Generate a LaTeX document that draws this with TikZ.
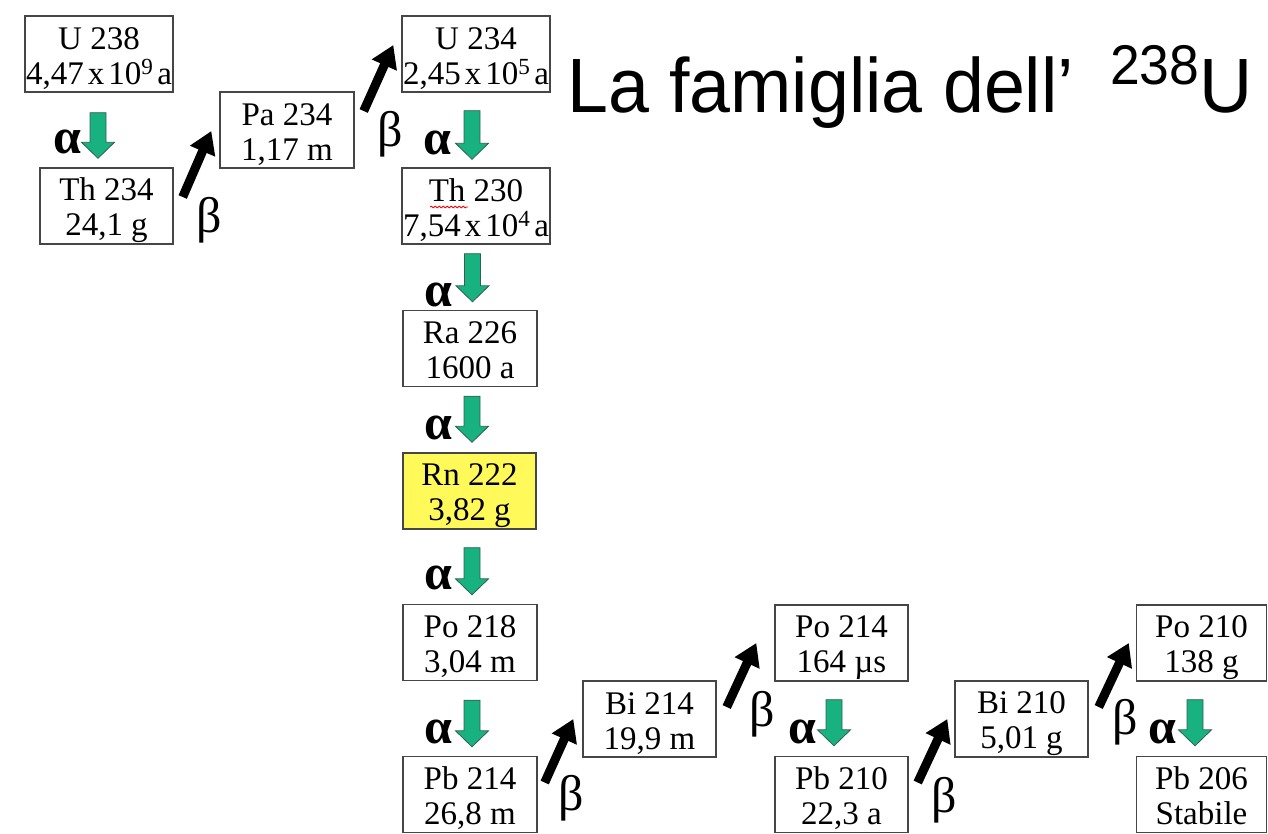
\documentclass[tikz,border=0pt]{standalone}
\usepackage{fontspec}
\setmainfont{Liberation Serif}
\newfontfamily\titlefont[FakeStretch=0.955]{Liberation Sans}
\usetikzlibrary{calc,arrows.meta,decorations.pathmorphing}
\definecolor{galphafill}{RGB}{24,178,128}
\definecolor{galphaedge}{RGB}{50,95,80}
\definecolor{boxedge}{RGB}{70,70,70}
\definecolor{rnyellow}{RGB}{255,250,90}
\newcommand{\bxt}[2]{\rule{0pt}{32pt}#1\\#2\rule[-7pt]{0pt}{7pt}}
\newcommand{\nsp}{\kern4pt}
\begin{document}
\begin{tikzpicture}[x=1pt,y=-1pt,
  iso/.style={draw=boxedge, line width=1.4pt, inner sep=0pt, minimum height=76pt,
    align=center, font=\fontsize{33}{35}\selectfont},
  galpha/.style={fill=galphafill, draw=galphaedge, line width=0.8pt,
    to path={let \p1=(\tikztostart), \p2=(\tikztotarget) in
      (\x1-8pt,\y1) -- (\x1+8pt,\y1) -- (\x1+8pt,\y2+16pt) -- (\x1+16.5pt,\y2+16pt)
      -- (\x1,\y2) -- (\x1-16.5pt,\y2+16pt) -- (\x1-8pt,\y2+16pt) -- cycle}},
  bbeta/.style={draw=black, line width=9pt, -{Triangle[width=26pt,length=22pt]}},
  lbl/.style={inner sep=0pt, font=\fontsize{50}{50}\selectfont},
  albl/.style={lbl, font=\fontsize{50}{50}\selectfont\bfseries},
  titlestyle/.style={inner sep=0pt, anchor=base west, font=\titlefont\fontsize{77}{80}\selectfont}
]
\useasboundingbox (0,0) rectangle (1268,833);

% title
\node[titlestyle] (title) at (567,112) {La famiglia dell’\hspace{36pt}\raisebox{28pt}{\fontsize{56}{56}\selectfont 238}U};

% isotope boxes
\node[iso, minimum width=148pt] (u238) at (99,54) {\bxt{U 238}{4,47\nsp x\nsp 10\textsuperscript{9}\nsp a}};
\node[iso, minimum width=133pt] (th234) at (106.5,206) {\bxt{Th 234}{24,1 g}};
\node[iso, minimum width=134pt] (pa234) at (287,130) {\bxt{Pa 234}{1,17 m}};
\node[iso, minimum width=148pt] (u234) at (476,54) {\bxt{U 234}{2,45\nsp x\nsp 10\textsuperscript{5}\nsp a}};
\node[iso, minimum width=148pt] (th230) at (476,206) {\bxt{Th 230}{7,54\nsp x\nsp 10\textsuperscript{4}\nsp a}};
\node[iso, minimum width=134pt] (ra226) at (470,348.5) {\bxt{Ra 226}{1600 a}};
\node[iso, minimum width=133pt, fill=rnyellow] (rn222) at (469.5,491) {\bxt{Rn 222}{3,82 g}};
\node[iso, minimum width=134pt] (po218) at (470,642.5) {\bxt{Po 218}{3,04 m}};
\node[iso, minimum width=134pt] (pb214) at (470,794.5) {\bxt{Pb 214}{26,8 m}};
\node[iso, minimum width=133pt] (bi214) at (649.5,719) {\bxt{Bi 214}{19,9 m}};
\node[iso, minimum width=133pt] (po214) at (841.5,643) {\bxt{Po 214}{164 µs}};
\node[iso, minimum width=133pt] (pb210) at (841.5,794.5) {\bxt{Pb 210}{22,3 a}};
\node[iso, minimum width=133pt] (bi210) at (1021.5,719) {\bxt{Bi 210}{5,01 g}};
\node[iso, minimum width=130pt] (po210) at (1201.5,643) {\bxt{Po 210}{138 g}};
\node[iso, minimum width=130pt] (pb206) at (1201.5,794.5) {\bxt{Pb 206}{Stabile}};

% spell-check squiggle under "Th"
\draw[red, line width=0.8pt, decorate, decoration={snake, amplitude=0.9pt, segment length=4pt}]
  ([shift={(-46,1)}]th230.center) -- ([shift={(-8,1)}]th230.center);

% alpha decays
\draw[galpha] ($(u238.south)+(-1,20)$) to ($(th234.north)+(0,-9)$);
\draw[galpha] ($(u234.south)+(-4,18)$) to ($(th230.north)+(0,-8)$);
\draw[galpha] ($(th230.south)+(-3.5,9)$) to ($(ra226.north)+(0,-8)$);
\draw[galpha] ($(ra226.south)+(2,9)$) to ($(rn222.north)+(0,-10)$);
\draw[galpha] ($(rn222.south)+(2.5,18)$) to ($(po218.north)+(0,-9)$);
\draw[galpha] ($(po218.south)+(2,19)$) to ($(pb214.north)+(0,-9)$);
\draw[galpha] ($(po214.south)+(-7.5,18)$) to ($(pb210.north)+(0,-10)$);
\draw[galpha] ($(po210.south)+(-6.5,18)$) to ($(pb206.north)+(0,-10)$);

\node[albl] (a1) at (67,142) {α};
\node[albl] (a2) at (437,143) {α};
\node[albl] (a3) at (438,295) {α};
\node[albl] (a4) at (438,428) {α};
\node[albl] (a5) at (438,578) {α};
\node[albl] (a6) at (438,732) {α};
\node[albl] (a7) at (802,732) {α};
\node[albl] (a8) at (1162,732) {α};

% beta decays
\draw[bbeta] ([shift={(9,-9)}]th234.east) -- ([shift={(-8,1)}]pa234.west);
\draw[bbeta] ([shift={(9,-19)}]pa234.east) -- ([shift={(-8,-9)}]u234.west);
\draw[bbeta] ([shift={(7,-12)}]pb214.east) -- ([shift={(-9,0)}]bi214.west);
\draw[bbeta] ([shift={(10,-12)}]bi214.east) -- ([shift={(-18,0)}]po214.west);
\draw[bbeta] ([shift={(9,-12)}]pb210.east) -- ([shift={(-7,0)}]bi210.west);
\draw[bbeta] ([shift={(10,-12)}]bi210.east) -- ([shift={(-7,0)}]po210.west);

\node[lbl] (b1) at (209,220) {β};
\node[lbl] (b2) at (390,134) {β};
\node[lbl] (b3) at (571,798) {β};
\node[lbl] (b4) at (762,714) {β};
\node[lbl] (b5) at (944,800) {β};
\node[lbl] (b6) at (1125,722) {β};
\end{tikzpicture}
\end{document}
